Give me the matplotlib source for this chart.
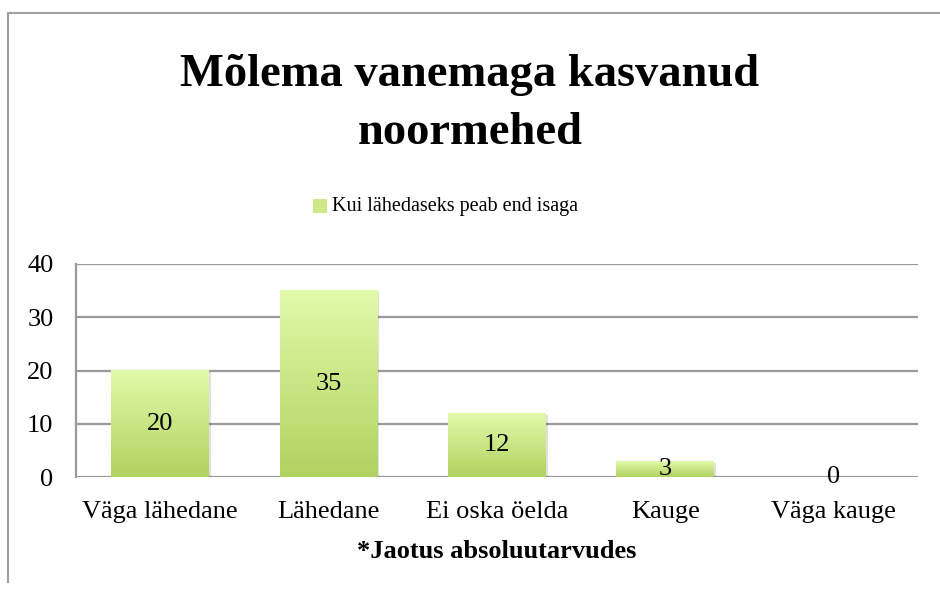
import numpy as np
import matplotlib.pyplot as plt
from matplotlib.colors import LinearSegmentedColormap
from matplotlib.lines import Line2D
from matplotlib.patches import Rectangle

categories = ['Väga lähedane', 'Lähedane', 'Ei oska öelda', 'Kauge', 'Väga kauge']
values = [20, 35, 12, 3, 0]
series_name = 'Kui lähedaseks peab end isaga'
title = 'Mõlema vanemaga kasvanud\nnoormehed'
xlabel = '*Jaotus absoluutarvudes'
yticks = [0, 10, 20, 30, 40]

plt.rcParams['font.family'] = ['Liberation Serif', 'DejaVu Serif']

fig = plt.figure(figsize=(9.4, 5.94), dpi=100)
ax = fig.add_axes([75.75 / 940, 1 - 477 / 594, (918 - 75.75) / 940, (477 - 264) / 594])

# light chart frame (top and left edges visible)
fig.add_artist(Line2D([8 / 940, 1.0], [1 - 13 / 594, 1 - 13 / 594], color='#a0a0a0', lw=1.5))
fig.add_artist(Line2D([8 / 940, 8 / 940], [1 - 13 / 594, 1 - 582 / 594], color='#a0a0a0', lw=1.5))

green = LinearSegmentedColormap.from_list('g', ['#b0d25f', '#e2faaa'])
grad = np.linspace(0, 1, 256).reshape(-1, 1)

x = np.arange(len(categories))
width = 0.58

for xi, v in zip(x, values):
    if v > 0:
        # soft shadow
        ax.add_patch(Rectangle((xi - width / 2 + 0.012, -0.3), width, v, color='#000000',
                               alpha=0.12, lw=0, zorder=2))
        ax.imshow(grad, cmap=green, origin='lower', aspect='auto',
                  extent=(xi - width / 2, xi + width / 2, 0, v), zorder=3)
    ax.text(xi, v / 2, str(v), ha='center', va='center', fontsize=19, zorder=5)

ax.set_xlim(-0.5, len(categories) - 0.5)
ax.set_ylim(0, 40)

for t in yticks:
    ax.axhline(t, color='#9a9a9a', lw=1.6, zorder=1)

ax.set_yticks(yticks)
ax.set_yticklabels([str(t) for t in yticks], fontsize=19)
ax.set_xticks(x)
ax.set_xticklabels(categories, fontsize=19)
ax.tick_params(length=0)
ax.tick_params(axis='x', pad=17.5)
ax.tick_params(axis='y', pad=16)
for s in ax.spines.values():
    s.set_visible(False)
ax.spines['left'].set_visible(True)
ax.spines['left'].set_color('#9a9a9a')
ax.spines['left'].set_linewidth(1.6)
ax.set_xlabel(xlabel, fontsize=19, fontweight='bold', labelpad=12)

fig.text(0.5, 1 - 104 / 594, title, ha='center', va='center', fontsize=33.5,
         fontweight='bold', linespacing=1.52)

# legend
lx = 313 / 940
ly = 1 - 206 / 594
fig.add_artist(Rectangle((lx, ly - 7 / 594), 14 / 940, 14 / 594, transform=fig.transFigure,
                         facecolor='#cfe98a', edgecolor='none'))
fig.text(332 / 940, ly, series_name, ha='left', va='center', fontsize=14.5)

fig.savefig('out.png', dpi=100)
